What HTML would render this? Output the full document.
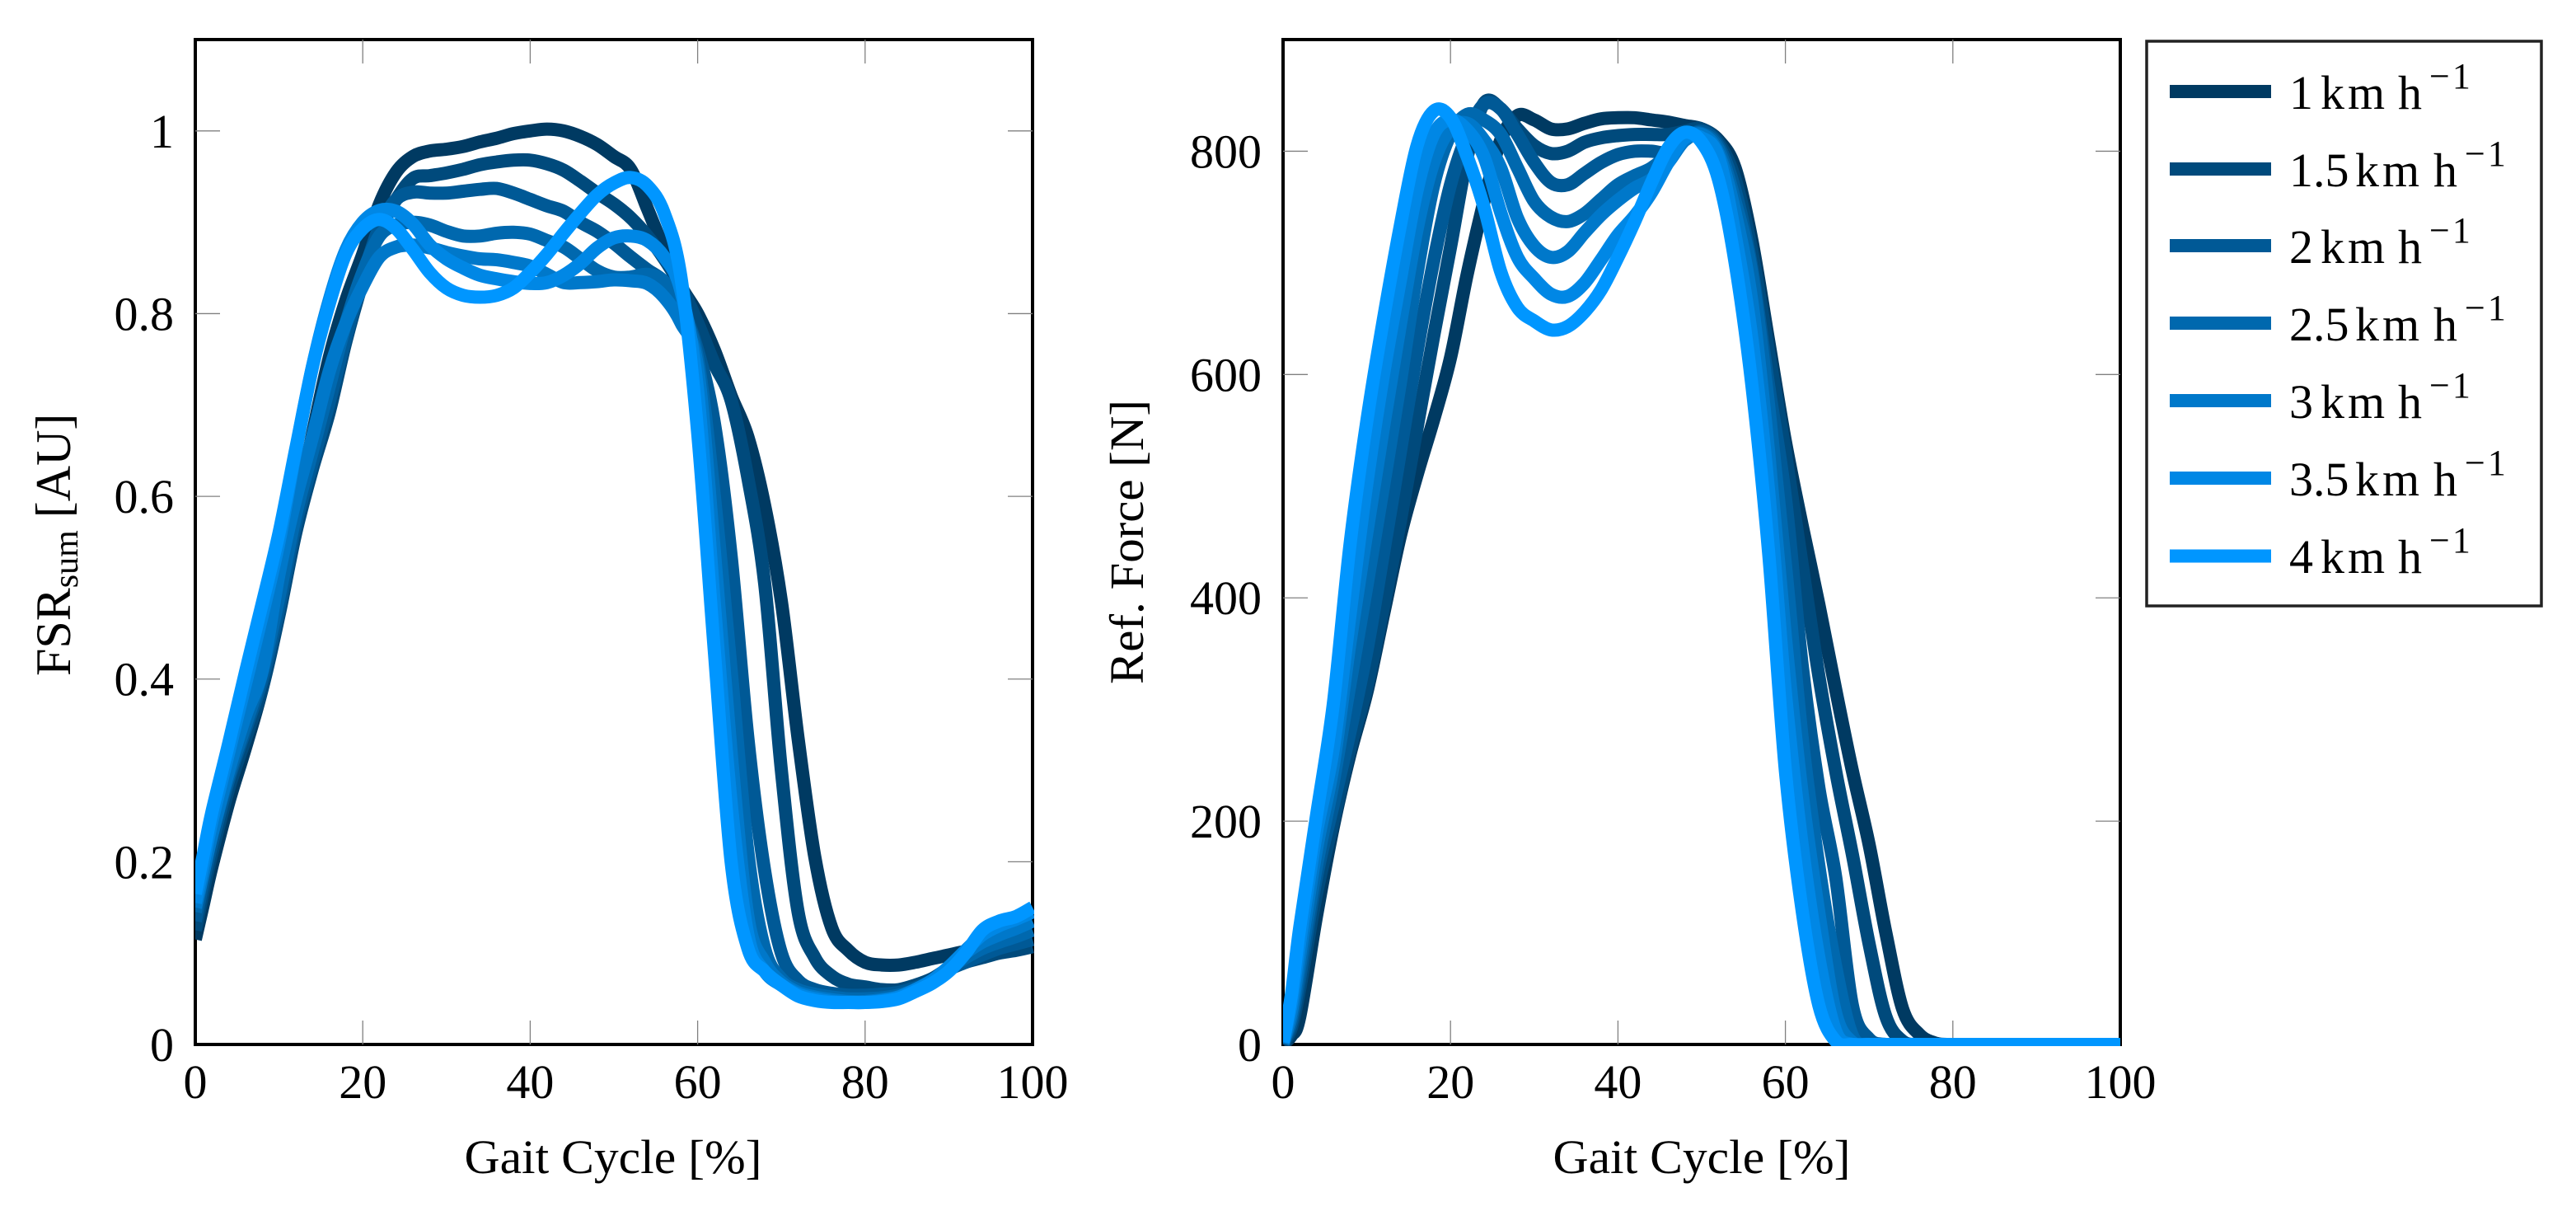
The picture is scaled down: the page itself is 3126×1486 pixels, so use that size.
<!DOCTYPE html>
<html lang="en">
<head>
<meta charset="utf-8">
<title>FSR sum and reference force over the gait cycle</title>
<style>
html,body{margin:0;padding:0;background:#fff;}
svg{display:block;}
text{font-family:"Liberation Serif",serif;fill:#000;}
</style>
</head>
<body>
<svg id="figure" xmlns="http://www.w3.org/2000/svg" width="3126" height="1486" viewBox="0 0 3126 1486">
  <defs>
    <clipPath id="clip-left"><rect x="237" y="48" width="1018" height="1221"/></clipPath>
    <clipPath id="clip-right"><rect x="1557" y="48" width="1018" height="1221"/></clipPath>
  </defs>
  <g id="plot-left"></g>
  <g id="plot-right"></g>

  <text x="744" y="1423" font-size="58" text-anchor="middle" textLength="361" lengthAdjust="spacingAndGlyphs">Gait Cycle [%]</text>
  <text x="2065" y="1423" font-size="58" text-anchor="middle" textLength="361" lengthAdjust="spacingAndGlyphs">Gait Cycle [%]</text>
  <text transform="translate(85 820) rotate(-90)" font-size="60">FSR<tspan font-size="42" dy="9">sum</tspan><tspan dy="-9"> [AU]</tspan></text>
  <text transform="translate(1387 830) rotate(-90)" font-size="58" textLength="345" lengthAdjust="spacingAndGlyphs">Ref. Force [N]</text>

  <g>
    <rect x="2605" y="50" width="479" height="685" fill="#fff" stroke="#222" stroke-width="3.5"/>
    <g>
      <line x1="2633" x2="2756" y1="111" y2="111" stroke="#003a62" stroke-width="16"/>
      <text y="132" font-size="58"><tspan x="2778">1 </tspan><tspan x="2816" letter-spacing="4">km </tspan><tspan x="2910">h</tspan><tspan x="2948" y="107" font-size="44" letter-spacing="3">−1</tspan></text>
    </g>
    <g>
      <line x1="2633" x2="2756" y1="205" y2="205" stroke="#004a7c" stroke-width="16"/>
      <text y="226" font-size="58"><tspan x="2778">1.5 </tspan><tspan x="2858" letter-spacing="4">km </tspan><tspan x="2953">h</tspan><tspan x="2991" y="201" font-size="44" letter-spacing="3">−1</tspan></text>
    </g>
    <g>
      <line x1="2633" x2="2756" y1="298" y2="298" stroke="#005996" stroke-width="16"/>
      <text y="319" font-size="58"><tspan x="2778">2 </tspan><tspan x="2816" letter-spacing="4">km </tspan><tspan x="2910">h</tspan><tspan x="2948" y="294" font-size="44" letter-spacing="3">−1</tspan></text>
    </g>
    <g>
      <line x1="2633" x2="2756" y1="392" y2="392" stroke="#0068ae" stroke-width="16"/>
      <text y="413" font-size="58"><tspan x="2778">2.5 </tspan><tspan x="2858" letter-spacing="4">km </tspan><tspan x="2953">h</tspan><tspan x="2991" y="388" font-size="44" letter-spacing="3">−1</tspan></text>
    </g>
    <g>
      <line x1="2633" x2="2756" y1="486" y2="486" stroke="#0078ca" stroke-width="16"/>
      <text y="507" font-size="58"><tspan x="2778">3 </tspan><tspan x="2816" letter-spacing="4">km </tspan><tspan x="2910">h</tspan><tspan x="2948" y="482" font-size="44" letter-spacing="3">−1</tspan></text>
    </g>
    <g>
      <line x1="2633" x2="2756" y1="580" y2="580" stroke="#0087e5" stroke-width="16"/>
      <text y="601" font-size="58"><tspan x="2778">3.5 </tspan><tspan x="2858" letter-spacing="4">km </tspan><tspan x="2953">h</tspan><tspan x="2991" y="576" font-size="44" letter-spacing="3">−1</tspan></text>
    </g>
    <g>
      <line x1="2633" x2="2756" y1="674.5" y2="674.5" stroke="#0096ff" stroke-width="16"/>
      <text y="695" font-size="58"><tspan x="2778">4 </tspan><tspan x="2816" letter-spacing="4">km </tspan><tspan x="2910">h</tspan><tspan x="2948" y="670" font-size="44" letter-spacing="3">−1</tspan></text>
    </g>
  </g>
</svg>
<script>
const gaitPercent = [0,1,2,4,6,8,10,12,14,16,
  18,20,22,24,26,28,30,32,34,36,
  38,40,42,44,46,48,50,52,54,56,
  58,60,62,64,66,68,70,72,74,76,
  78,80,82,84,86,88,90,92,94,96,
  98,100];
const speedNames = ['1-kmh','1-5-kmh','2-kmh','2-5-kmh','3-kmh','3-5-kmh','4-kmh'];
const xTickLabels = [0,20,40,60,80,100];
const fsrTickValues = [0,0.2,0.4,0.6,0.8,1];
const fsrTickLabels = ['0','0.2','0.4','0.6','0.8','1'];
const forceTickValues = [0,200,400,600,800];
const forceTickLabels = ['0','200','400','600','800'];

const fsr1 = [.115,.155,.195,.265,.325,.39,.475,.575,.668,.752,
  .815,.865,.92,.955,.972,.978,.98,.983,.988,.992,
  .997,1.0,1.002,1.0,.994,.985,.972,.958,.915,.87,
  .83,.80,.76,.71,.665,.59,.485,.335,.205,.128,
  .103,.09,.087,.087,.09,.094,.098,.102,.105,.107,
  .11,.115];
const fsr15 = [.125,.17,.21,.28,.335,.39,.47,.56,.63,.692,
  .77,.835,.89,.925,.948,.951,.954,.958,.963,.966,
  .968,.968,.964,.957,.945,.932,.92,.905,.885,.86,
  .83,.79,.745,.705,.62,.505,.30,.145,.095,.075,
  .066,.063,.06,.06,.065,.072,.083,.09,.095,.10,
  .103,.107];
const fsr2 = [.135,.18,.22,.29,.345,.40,.478,.57,.637,.703,
  .775,.84,.895,.925,.933,.932,.932,.934,.936,.937,
  .932,.925,.918,.912,.90,.89,.877,.862,.848,.835,
  .81,.76,.68,.535,.335,.19,.10,.07,.06,.056,
  .054,.054,.055,.057,.062,.07,.082,.09,.098,.105,
  .11,.115];
const fsr25 = [.145,.19,.23,.295,.35,.408,.49,.58,.65,.72,
  .79,.845,.885,.897,.90,.897,.89,.885,.885,.888,
  .889,.887,.88,.873,.86,.847,.84,.84,.843,.835,
  .805,.75,.60,.41,.21,.105,.072,.06,.055,.052,
  .05,.05,.051,.054,.06,.07,.083,.095,.105,.112,
  .118,.125];
const fsr3 = [.15,.19,.23,.30,.36,.41,.515,.597,.665,.737,
  .79,.83,.862,.873,.875,.872,.867,.863,.86,.859,
  .856,.852,.843,.834,.834,.835,.837,.836,.833,.818,
  .79,.74,.54,.32,.14,.09,.068,.057,.052,.049,
  .047,.047,.049,.052,.06,.07,.084,.10,.112,.12,
  .127,.135];
const fsr35 = [.155,.2,.245,.32,.395,.47,.55,.65,.742,.815,
  .87,.90,.913,.912,.898,.875,.86,.85,.842,.838,
  .835,.833,.834,.842,.855,.872,.883,.885,.88,.862,
  .825,.715,.482,.265,.12,.08,.065,.055,.05,.047,
  .046,.046,.048,.052,.06,.07,.085,.103,.12,.13,
  .137,.145];
const fsr4 = [.165,.21,.255,.33,.408,.483,.56,.652,.742,.811,
  .866,.893,.903,.893,.87,.845,.828,.82,.818,.82,
  .828,.845,.865,.888,.91,.93,.943,.949,.94,.91,
  .84,.67,.43,.20,.105,.08,.065,.053,.048,.046,
  .046,.046,.047,.05,.058,.067,.08,.1,.125,.135,
  .14,.15];

const force1 = [0,8,25,115,195,260,315,385,455,510,
  560,615,690,755,810,832,828,820,820,825,
  829,830,830,828,826,823,820,810,785,720,
  630,540,465,394,318,245,179,100,32,9,
  1,0,0,0,0,0,0,0,0,0,
  0,0];
const force15 = [0,15,50,135,200,265,320,392,468,552,
  635,714,795,843,838,820,805,798,800,808,
  812,814,815,815,815,818,820,808,775,710,
  620,530,430,330,245,170,90,25,3,0,
  0,0,0,0,0,0,0,0,0,0,
  0,0];
const force2 = [1,20,60,150,215,280,352,440,530,620,
  702,770,815,842,838,815,790,772,770,780,
  790,797,800,800,799,810,818,805,765,695,
  590,490,340,230,150,35,5,0,0,0,
  0,0,0,0,0,0,0,0,0,0,
  0,0];
const force25 = [1,25,70,160,235,323,410,500,592,690,
  770,815,833,828,815,785,755,741,737,744,
  757,770,778,785,797,812,816,802,755,690,
  572,430,275,160,70,8,0,0,0,0,
  0,0,0,0,0,0,0,0,0,0,
  0,0];
const force3 = [1,30,80,175,250,360,458,553,644,730,
  790,820,825,810,785,740,715,705,710,727,
  743,756,767,775,790,810,815,798,745,665,
  530,365,225,118,28,2,0,0,0,0,
  0,0,0,0,0,0,0,0,0,0,
  0,0];
const force35 = [2,38,92,190,265,385,502,600,684,765,
  815,828,819,795,745,705,686,672,670,682,
  703,725,742,763,790,812,812,795,725,632,
  495,315,179,78,12,0,0,0,0,0,
  0,0,0,0,0,0,0,0,0,0,
  0,0];
const force4 = [2,45,105,205,305,448,558,650,733,805,
  836,830,795,750,692,660,648,640,643,656,
  676,705,737,772,803,817,808,775,700,590,
  440,245,120,35,3,0,0,0,0,0,
  0,0,0,0,0,0,0,0,0,0,
  0,0];

const seriesColors = ['#003a62','#004a7c','#005996','#0068ae','#0078ca','#0087e5','#0096ff'];
const NS = 'http://www.w3.org/2000/svg';

function svgEl(parent, tag, props) {
  const el = document.createElementNS(NS, tag);
  for (const key in props) el.setAttribute(key, props[key]);
  parent.appendChild(el);
  return el;
}

function smoothPath(xs, ys) {
  let d = 'M' + xs[0].toFixed(1) + ' ' + ys[0].toFixed(1);
  for (let i = 0; i < xs.length - 1; i++) {
    const p0 = Math.max(i - 1, 0), p3 = Math.min(i + 2, xs.length - 1);
    const c1x = xs[i] + (xs[i + 1] - xs[p0]) / 6;
    const c1y = ys[i] + (ys[i + 1] - ys[p0]) / 6;
    const c2x = xs[i + 1] - (xs[p3] - xs[i]) / 6;
    const c2y = ys[i + 1] - (ys[p3] - ys[i]) / 6;
    d += 'C' + c1x.toFixed(1) + ' ' + c1y.toFixed(1) + ' ' + c2x.toFixed(1) + ' ' + c2y.toFixed(1) + ' ' + xs[i + 1].toFixed(1) + ' ' + ys[i + 1].toFixed(1);
  }
  return d;
}

function drawPlot(host, prefix, clipId, left, yMax, yTickValues, yTickLabels, series) {
  const width = 1016, top = 48, bottom = 1267;
  const xScale = v => left + v / 100 * width;
  const yScale = v => bottom - v / yMax * (bottom - top);

  const frame = svgEl(host, 'rect', {x: left, y: top, width: width, height: bottom - top, fill: 'none', stroke: '#000', 'stroke-width': 4});
  
  

  xTickLabels.forEach(v => {
    const x = xScale(v);
    if (v > 0 && v < 100) {
      const bottomTick = svgEl(host, 'line', {x1: x, x2: x, y1: bottom, y2: bottom - 29, stroke: '#808080', 'stroke-width': 1.3});
      
      
      const topTick = svgEl(host, 'line', {x1: x, x2: x, y1: top, y2: top + 29, stroke: '#808080', 'stroke-width': 1.3});
      
      
    }
    const label = svgEl(host, 'text', {x: x, y: 1332, 'font-size': 58, 'text-anchor': 'middle'});
    label.textContent = String(v);
    
    
  });

  yTickValues.forEach((v, i) => {
    const y = yScale(v);
    if (v > 0) {
      const leftTick = svgEl(host, 'line', {x1: left, x2: left + 30, y1: y, y2: y, stroke: '#808080', 'stroke-width': 1.3});
      
      
      const rightTick = svgEl(host, 'line', {x1: left + width, x2: left + width - 30, y1: y, y2: y, stroke: '#808080', 'stroke-width': 1.3});
      
      
    }
    const label = svgEl(host, 'text', {x: left - 26, y: y + 20, 'font-size': 58, 'text-anchor': 'end'});
    label.textContent = yTickLabels[i];
    
    
  });

  const curves = svgEl(host, 'g', {'clip-path': 'url(#' + clipId + ')'});
  
  
  series.forEach((values, i) => {
    const path = svgEl(curves, 'path', {
      d: smoothPath(gaitPercent.map(xScale), values.map(yScale)),
      fill: 'none',
      stroke: seriesColors[i],
      'stroke-width': 16,
      'stroke-linejoin': 'round'
    });
    
    
  });
}

drawPlot(document.getElementById('plot-left'), 'fsr', 'clip-left', 237, 1.1, fsrTickValues, fsrTickLabels,
  [fsr1, fsr15, fsr2, fsr25, fsr3, fsr35, fsr4]);
drawPlot(document.getElementById('plot-right'), 'force', 'clip-right', 1557, 900, forceTickValues, forceTickLabels,
  [force1, force15, force2, force25, force3, force35, force4]);
</script>
</body>
</html>
